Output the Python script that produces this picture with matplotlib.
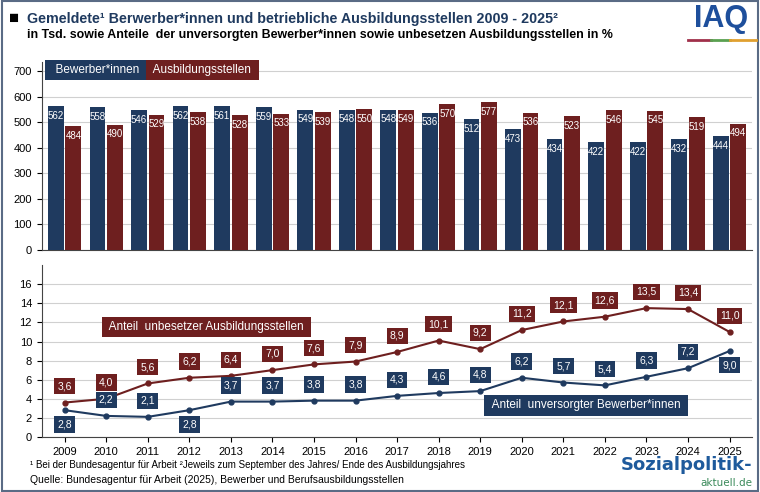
import matplotlib
matplotlib.use("Agg")
import matplotlib.pyplot as plt
import numpy as np

years = list(range(2009, 2026))
bewerber = [562,558,546,562,561,559,549,548,548,536,512,473,434,422,422,432,444]
stellen = [484,490,529,538,528,533,539,550,549,570,577,536,523,546,545,519,494]
unversorgt = [2.8,2.2,2.1,2.8,3.7,3.7,3.8,3.8,4.3,4.6,4.8,6.2,5.7,5.4,6.3,7.2,9.0]
unbesetzt = [3.6,4.0,5.6,6.2,6.4,7.0,7.6,7.9,8.9,10.1,9.2,11.2,12.1,12.6,13.5,13.4,11.0]
unv_below = [2009, 2012, 2025]

NAVY = "#1f3a5f"
RED = "#6e1f1f"
plt.rcParams['font.family'] = ['Liberation Sans', 'DejaVu Sans']

fig = plt.figure(figsize=(7.6, 4.92), dpi=100)
fig.patch.set_facecolor("white")
fig.add_artist(plt.Rectangle((0.002,0.002),0.996,0.996, transform=fig.transFigure, fill=False, ec="#5a6b85", lw=1.5))

x = np.arange(len(years))
ax1 = fig.add_axes([0.055, 0.492, 0.935, 0.382])
w = 0.4
ax1.bar(x - 0.21, bewerber, 0.38, color=NAVY, zorder=3)
ax1.bar(x + 0.21, stellen, 0.38, color=RED, zorder=3)
for i in range(len(years)):
    ax1.text(x[i]-0.21, bewerber[i]-18, str(bewerber[i]), color="white", ha="center", va="top", fontsize=7, zorder=4)
    ax1.text(x[i]+0.21, stellen[i]-18, str(stellen[i]), color="white", ha="center", va="top", fontsize=7, zorder=4)
ax1.set_ylim(0, 735)
ax1.set_xlim(-0.55, len(years)-0.45)
ax1.set_yticks(range(0, 701, 100))
ax1.set_xticks([])
ax1.grid(axis="y", color="#d0d0d0", lw=0.8, zorder=0)
for s in ["top", "right"]:
    ax1.spines[s].set_visible(False)
for s in ["left", "bottom"]:
    ax1.spines[s].set_color("#444444")
ax1.tick_params(labelsize=8)
fig.text(0.064, 0.857, "  Bewerber*innen  ", color="white", fontsize=8.5,
         va="center", bbox=dict(boxstyle="square,pad=0.35", fc=NAVY, ec="none"))
fig.text(0.198, 0.857, " Ausbildungsstellen ", color="white", fontsize=8.5,
         va="center", bbox=dict(boxstyle="square,pad=0.35", fc=RED, ec="none"))

ax2 = fig.add_axes([0.055, 0.112, 0.935, 0.349])
ax2.plot(x, unbesetzt, color=RED, marker="o", ms=3.5, lw=1.5, zorder=3)
ax2.plot(x, unversorgt, color=NAVY, marker="o", ms=3.5, lw=1.5, zorder=3)
def fmt(v): return f"{v:.1f}".replace(".", ",")
for i, y in enumerate(years):
    ax2.text(x[i], unbesetzt[i]+1.7, fmt(unbesetzt[i]), ha="center", va="center", color="white", fontsize=7.5,
             bbox=dict(boxstyle="square,pad=0.3", fc=RED, ec="none"), zorder=4)
    off = -1.5 if y in unv_below else 1.7
    ax2.text(x[i], unversorgt[i]+off, fmt(unversorgt[i]), ha="center", va="center", color="white", fontsize=7.5,
             bbox=dict(boxstyle="square,pad=0.3", fc=NAVY, ec="none"), zorder=4)
ax2.text(1.0, 11.5, " Anteil  unbesetzer Ausbildungsstellen ", color="white", fontsize=8.5, va="center",
         bbox=dict(boxstyle="square,pad=0.35", fc=RED, ec="none"))
ax2.text(10.2, 3.3, " Anteil  unversorgter Bewerber*innen ", color="white", fontsize=8.5, va="center",
         bbox=dict(boxstyle="square,pad=0.35", fc=NAVY, ec="none"))
ax2.set_ylim(0, 18)
ax2.set_xlim(-0.55, len(years)-0.45)
ax2.set_yticks(range(0, 17, 2))
ax2.set_xticks(x)
ax2.set_xticklabels([str(y) for y in years])
ax2.grid(axis="y", color="#d0d0d0", lw=0.8, zorder=0)
for s in ["top", "right"]:
    ax2.spines[s].set_visible(False)
for s in ["left", "bottom"]:
    ax2.spines[s].set_color("#444444")
ax2.tick_params(labelsize=8)

fig.text(0.012, 0.962, "■", fontsize=12, va="center", color="black")
fig.text(0.035, 0.962, "Gemeldete¹ Berwerber*innen und betriebliche Ausbildungsstellen 2009 - 2025²",
         fontsize=10.3, weight="bold", color=NAVY, va="center")
fig.text(0.035, 0.928, "in Tsd. sowie Anteile  der unversorgten Bewerber*innen sowie unbesetzen Ausbildungsstellen in %",
         fontsize=8.9, weight="bold", color="black", va="center")
fig.text(0.985, 0.962, "IAQ", fontsize=22, weight="bold", color="#1e4f9c", ha="right", va="center")
fig.add_artist(plt.Line2D([0.905, 0.935], [0.918, 0.918], transform=fig.transFigure, color="#a0304a", lw=2))
fig.add_artist(plt.Line2D([0.935, 0.96], [0.918, 0.918], transform=fig.transFigure, color="#5aa050", lw=2))
fig.add_artist(plt.Line2D([0.96, 0.995], [0.918, 0.918], transform=fig.transFigure, color="#e0a030", lw=2))
fig.text(0.04, 0.048, "¹ Bei der Bundesagentur für Arbeit ²Jeweils zum September des Jahres/ Ende des Ausbildungsjahres", fontsize=7)
fig.text(0.04, 0.018, "Quelle: Bundesagentur für Arbeit (2025), Bewerber und Berufsausbildungsstellen", fontsize=7.5)
fig.text(0.99, 0.055, "Sozialpolitik-", fontsize=13, weight="bold", color="#1e5a9c", ha="right", va="center",
         family=["DejaVu Sans"])
fig.text(0.99, 0.018, "aktuell.de", fontsize=7.5, color="#3a8a5a", ha="right", va="center", family=["DejaVu Sans"])
fig.savefig("out.png", dpi=100)
